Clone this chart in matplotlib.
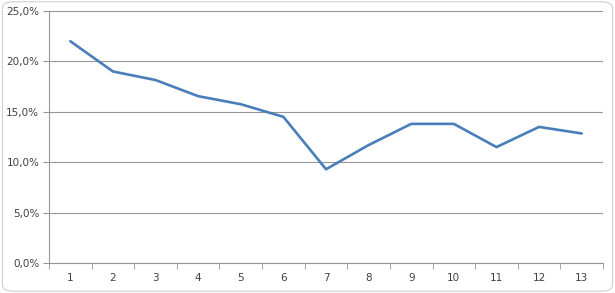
import numpy as np
import matplotlib
matplotlib.use("Agg")
from matplotlib import pyplot as plt
from matplotlib.patches import FancyBboxPatch
from matplotlib.ticker import FuncFormatter

# Data
categories = list(range(1, 14))
values = [22.0, 19.0, 18.15, 16.55, 15.75, 14.5, 9.3, 11.7, 13.8, 13.8, 11.5, 13.5, 12.85]
y_ticks = [0, 5, 10, 15, 20, 25]

fig = plt.figure(figsize=(6.15, 2.93), dpi=100)

# Rounded chart border
border = FancyBboxPatch((0.004, 0.006), 0.992, 0.988,
                        boxstyle="round,pad=0,rounding_size=0.02",
                        transform=fig.transFigure, facecolor="none",
                        edgecolor="#d0d0d0", linewidth=0.8, zorder=-1)
fig.patches.append(border)

ax = fig.add_axes([0.0797, 0.1024, 0.9008, 0.8601])
ax.set_facecolor("none")

x = np.arange(1, len(categories) + 1)
ax.plot(x, values, color="#4a7ebb", linewidth=1.9,
        solid_joinstyle="round", solid_capstyle="round", zorder=3)

ax.set_xlim(0.5, len(categories) + 0.5)
ax.set_ylim(0, 25)

# Gridlines
ax.set_yticks(y_ticks)
ax.yaxis.set_major_formatter(FuncFormatter(lambda v, p: f"{v:.1f}%".replace(".", ",")))
ax.grid(True, axis="y", color="#969696", linewidth=0.8)
ax.set_axisbelow(True)

# Category labels centered, tick marks between categories
ax.set_xticks(x)
ax.set_xticklabels([str(c) for c in categories])
ax.set_xticks(np.arange(0.5, len(categories) + 1, 1), minor=True)
ax.tick_params(axis="x", which="major", length=0, pad=7)
ax.tick_params(axis="x", which="minor", length=4, direction="out", color="#969696")
ax.tick_params(axis="y", length=4, direction="out", color="#969696", pad=3)
ax.tick_params(axis="both", labelsize=7.5, labelcolor="#404040")

for side in ["top", "right"]:
    ax.spines[side].set_visible(False)
for side in ["left", "bottom"]:
    ax.spines[side].set_color("#969696")
    ax.spines[side].set_linewidth(0.8)

fig.savefig("out.png", dpi=100)
